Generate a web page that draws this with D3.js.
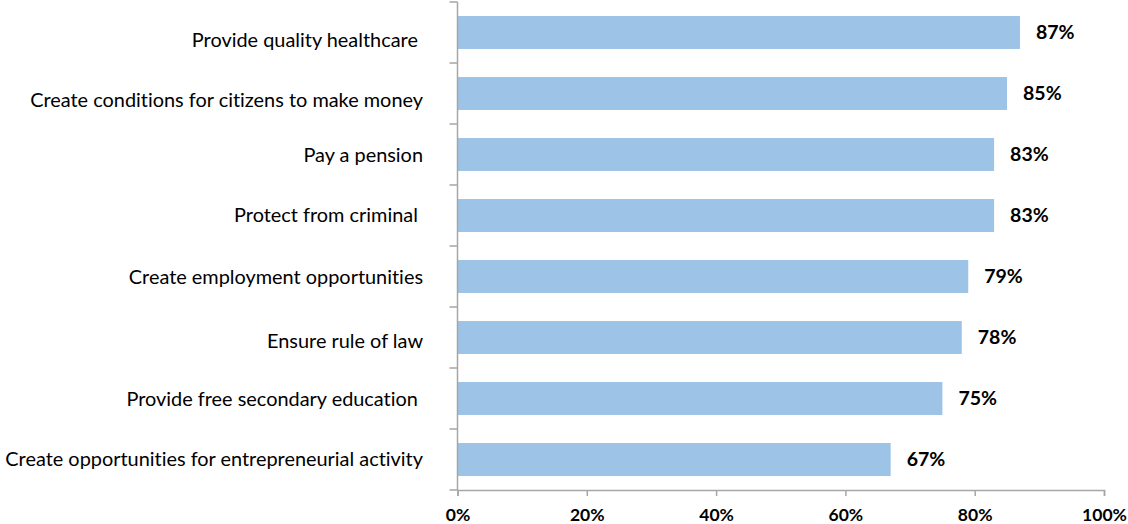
<!DOCTYPE html>
<html>
<head>
<meta charset="utf-8">
<script src="https://cdn.jsdelivr.net/npm/d3@7/dist/d3.min.js"></script>
<style>
  html, body { margin: 0; padding: 0; background: #fff; }
  svg { display: block; }
  text { font-variant-ligatures: none; }
  .cat { font-family: Lato, "Open Sans", sans-serif; font-size: 19.9px; fill: #000; }
  .val { font-family: Lato, "Open Sans", sans-serif; font-size: 19.5px; font-weight: 700; fill: #000; }
  .xt { font-family: Lato, "Open Sans", sans-serif; font-size: 17.5px; font-weight: 700; fill: #000; }
</style>
</head>
<body>
<svg id="chart" width="1128" height="524"></svg>
<script>
// Share of respondents naming each duty of the state
const categories = [
  "Provide quality healthcare ",
  "Create conditions for citizens to make money",
  "Pay a pension",
  "Protect from criminal ",
  "Create employment opportunities",
  "Ensure rule of law",
  "Provide free secondary education ",
  "Create opportunities for entrepreneurial activity"
];
const values = [87, 85, 83, 83, 79, 78, 75, 67];
const xTicks = [0, 20, 40, 60, 80, 100];

const svg = d3.select("#chart");
const plotLeft = 457.5, plotRight = 1104, plotTop = 2, plotBottom = 490;

const x = d3.scaleLinear().domain([0, 100]).range([plotLeft, plotRight]);
const y = d3.scaleBand().domain(categories).range([plotTop, plotBottom]).paddingInner(0.46).paddingOuter(0.23);
const band = d3.scaleBand().domain(categories).range([plotTop, plotBottom]);

// small vertical nudges of the category labels against their bars
const labelNudge = [7.5, 6.5, 0.5, -0.5, 1, 4, 1, -0.5];

const axisColor = "#a6a6a6";

// bars
svg.append("g").selectAll("rect")
  .data(values)
  .join("rect")
  .attr("x", x(0))
  .attr("y", (d, i) => y(categories[i]))
  .attr("width", d => x(d) - x(0))
  .attr("height", y.bandwidth())
  .attr("fill", "#9dc3e6");

// value labels
svg.append("g").selectAll("text")
  .data(values)
  .join("text")
  .attr("class", "val")
  .attr("x", d => x(d) + 16)
  .attr("y", (d, i) => y(categories[i]) + y.bandwidth() / 2)
  .attr("dy", "0.35em")
  .text(d => d + "%");

// category axis: vertical line with ticks at band boundaries
const yAxis = svg.append("g");
yAxis.append("line")
  .attr("x1", plotLeft).attr("x2", plotLeft)
  .attr("y1", plotTop).attr("y2", plotBottom)
  .attr("stroke", axisColor).attr("stroke-width", 1.5);
const bounds = categories.map(c => band(c)).concat([plotBottom]);
yAxis.selectAll("line.tk")
  .data(bounds)
  .join("line")
  .attr("class", "tk")
  .attr("x1", plotLeft - 8).attr("x2", plotLeft)
  .attr("y1", d => d).attr("y2", d => d)
  .attr("stroke", axisColor).attr("stroke-width", 1.5);
yAxis.selectAll("text")
  .data(categories)
  .join("text")
  .attr("class", "cat")
  .attr("x", 423)
  .attr("y", (c, i) => y(c) + y.bandwidth() / 2 + labelNudge[i])
  .attr("dy", "0.35em")
  .attr("text-anchor", "end")
  .style("white-space", "pre")
  .text(c => c);

// value axis
const xAxis = svg.append("g")
  .attr("transform", `translate(0,${plotBottom})`)
  .call(d3.axisBottom(x).tickValues(xTicks).tickSize(6).tickPadding(13).tickFormat(d => d + "%"));
xAxis.select(".domain").attr("stroke", axisColor).attr("stroke-width", 1.5);
xAxis.selectAll(".tick line").attr("stroke", axisColor).attr("stroke-width", 1.5);
xAxis.selectAll(".tick text").attr("class", "xt").attr("fill", "#000");
</script>
</body>
</html>
